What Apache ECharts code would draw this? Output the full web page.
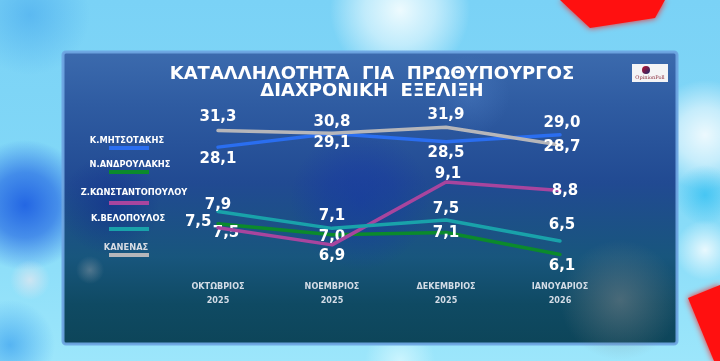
<!DOCTYPE html>
<html>
<head>
<meta charset="utf-8">
<script src="https://cdn.jsdelivr.net/npm/echarts@6/dist/echarts.min.js"></script>
<style>html,body{margin:0;padding:0;background:#8ee0fa;}#c{width:720px;height:361px;}</style>
</head>
<body>
<div id="c"></div>
<script>
// ---- data ----
const categories = ['ΟΚΤΩΒΡΙΟΣ\n2025', 'ΝΟΕΜΒΡΙΟΣ\n2025', 'ΔΕΚΕΜΒΡΙΟΣ\n2025', 'ΙΑΝΟΥΑΡΙΟΣ\n2026'];
const seriesNames = ['Κ.ΜΗΤΣΟΤΑΚΗΣ', 'Ν.ΑΝΔΡΟΥΛΑΚΗΣ', 'Ζ.ΚΩΝΣΤΑΝΤΟΠΟΥΛΟΥ', 'Κ.ΒΕΛΟΠΟΥΛΟΣ', 'ΚΑΝΕΝΑΣ'];
const mitsotakis = [28.1, 29.1, 28.5, 29.0];
const androulakis = [7.5, 7.0, 7.1, 6.1];
const konstantopoulou = [7.5, 6.9, 9.1, 8.8];
const velopoulos = [7.9, 7.1, 7.5, 6.5];
const kanenas = [31.3, 30.8, 31.9, 28.7];
const titleLines = ['ΚΑΤΑΛΛΗΛΟΤΗΤΑ  ΓΙΑ  ΠΡΩΘΥΠΟΥΡΓΟΣ', 'ΔΙΑΧΡΟΝΙΚΗ  ΕΞΕΛΙΞΗ'];

// ---- styles ----
const values = [mitsotakis, androulakis, konstantopoulou, velopoulos, kanenas];
const colors = ['#2a6ef0', '#0b8a2c', '#a8459e', '#19a2aa', '#b6b6ba'];
// per-series hidden scale ranges (the TV graphic uses its own scale for each line)
const ranges = [[18.4, 31.54], [4.93, 13.16], [5.67, 11.97], [4.65, 13.19], [4.42, 36.79]];
// label placement per point: [position, distance, dx, dy]
const labelPos = [
  [['bottom', 4, 0, 0], ['bottom', 2, 0, 0], ['bottom', 3.5, 0, 0], ['top', 3.5, 2, 0]],
  [['bottom', 1.5, 8, 0], ['inside', 0, 0, 2], ['inside', 0, 0, 1], ['bottom', 3.5, 2, 0]],
  [['left', 8, 2, -6], ['bottom', 3.5, 0, 0], ['top', 0, 2, 0], ['inside', 0, 5, 1]],
  [['top', 0, 0, 2], ['top', 4.5, 0, 0], ['top', 2.5, 0, 0], ['top', 7.5, 2, 0]],
  [['top', 5.5, 0, 0], ['top', 3.5, 0, 0], ['top', 4.5, 0, 0], ['inside', 0, 2, 2]]
];
const legendTextX = [127, 130, 134, 128, 126];
const legendTextY = [141, 165, 193, 219, 248];
const legendBarY = [148, 172, 203, 229, 255];

const fmt = v => v.toFixed(1).replace('.', ',');

const yAxes = ranges.map(r => ({
  type: 'value', min: r[0], max: r[1], show: false, splitLine: {show: false}
}));

const series = values.map((vals, i) => ({
  name: seriesNames[i],
  type: 'line',
  yAxisIndex: i,
  z: 5 + i,
  symbol: 'circle',
  symbolSize: 1,
  itemStyle: {color: colors[i]},
  lineStyle: {color: colors[i], width: 3.5, cap: 'round', join: 'round'},
  label: {show: true, color: '#ffffff', fontFamily: 'DejaVu Sans', fontWeight: 'bold', fontSize: 15,
    formatter: p => fmt(p.value)},
  labelLayout: p => {
    const lp = labelPos[i][p.dataIndex];
    return {dx: lp[2], dy: lp[3]};
  },
  data: vals.map((v, j) => ({
    value: v,
    label: {position: labelPos[i][j][0], distance: labelPos[i][j][1]}
  }))
}));

const W = 720, H = 361;
const RG = (c0, c1, mid) => new echarts.graphic.RadialGradient(0.5, 0.5, 0.5,
  mid ? [{offset: 0, color: c0}, {offset: 0.5, color: mid}, {offset: 1, color: c1}] : [{offset: 0, color: c0}, {offset: 1, color: c1}]);
const bg = [
  {type: 'rect', shape: {x: 0, y: 0, width: W, height: H}, z: -30,
   style: {fill: new echarts.graphic.LinearGradient(0, 0, 0, 1, [
     {offset: 0, color: '#7ad2f6'}, {offset: 0.5, color: '#82d8f7'}, {offset: 1, color: '#9ce6fb'}])}},
  {type: 'ellipse', shape: {cx: 400, cy: 10, rx: 300, ry: 70}, z: -29,
   style: {fill: RG('rgba(250,255,255,0.9)', 'rgba(250,255,255,0)', 'rgba(240,252,255,0.6)')}},
  {type: 'ellipse', shape: {cx: 30, cy: 15, rx: 110, ry: 60}, z: -29,
   style: {fill: RG('rgba(60,160,235,0.5)', 'rgba(60,160,235,0)')}},
  {type: 'ellipse', shape: {cx: 25, cy: 205, rx: 80, ry: 65}, z: -29,
   style: {fill: RG('rgba(25,90,225,0.9)', 'rgba(25,90,225,0)', 'rgba(25,90,225,0.6)')}},
  {type: 'ellipse', shape: {cx: 30, cy: 280, rx: 60, ry: 20}, z: -28,
   style: {fill: RG('rgba(220,230,240,0.8)', 'rgba(220,230,240,0)')}},
  {type: 'ellipse', shape: {cx: 10, cy: 345, rx: 80, ry: 45}, z: -29,
   style: {fill: RG('rgba(30,140,235,0.55)', 'rgba(30,140,235,0)')}},
  {type: 'ellipse', shape: {cx: 705, cy: 135, rx: 60, ry: 55}, z: -29,
   style: {fill: RG('rgba(255,255,255,0.85)', 'rgba(255,255,255,0)', 'rgba(255,255,255,0.55)')}},
  {type: 'ellipse', shape: {cx: 705, cy: 250, rx: 55, ry: 30}, z: -29,
   style: {fill: RG('rgba(255,255,255,0.8)', 'rgba(255,255,255,0)')}},
  {type: 'ellipse', shape: {cx: 705, cy: 195, rx: 55, ry: 30}, z: -29,
   style: {fill: RG('rgba(30,185,240,0.6)', 'rgba(30,185,240,0)')}},
  {type: 'ellipse', shape: {cx: 400, cy: 361, rx: 320, ry: 35}, z: -29,
   style: {fill: RG('rgba(215,248,255,0.8)', 'rgba(215,248,255,0)')}},
  {type: 'polygon', shape: {points: [[560, 0], [665, 0], [655, 18], [590, 28]]}, z: -28,
   style: {fill: '#ff1010', shadowBlur: 6, shadowColor: '#ff2020'}},
  {type: 'polygon', shape: {points: [[688, 298], [720, 285], [720, 361], [714, 361]]}, z: -28,
   style: {fill: '#ff1010', shadowBlur: 6, shadowColor: '#ff2020'}},
  // panel
  {type: 'rect', shape: {x: 63, y: 52, width: 614, height: 292, r: 3}, z: -20,
   style: {fill: new echarts.graphic.LinearGradient(0, 0, 0, 1, [
     {offset: 0, color: '#3c6bae'}, {offset: 0.18, color: '#2f5ca2'}, {offset: 0.45, color: '#214a92'},
     {offset: 0.7, color: '#18567d'}, {offset: 0.86, color: '#0f4a63'}, {offset: 1, color: '#0d4559'}]),
     stroke: 'rgba(110,165,225,0.95)', lineWidth: 3}},
  {type: 'ellipse', shape: {cx: 360, cy: 200, rx: 310, ry: 70}, z: -19,
   style: {fill: RG('rgba(20,50,170,0.45)', 'rgba(20,50,170,0)', 'rgba(20,50,170,0.3)')}},
  {type: 'ellipse', shape: {cx: 110, cy: 205, rx: 60, ry: 50}, z: -19,
   style: {fill: RG('rgba(15,40,140,0.5)', 'rgba(15,40,140,0)')}},
  {type: 'ellipse', shape: {cx: 90, cy: 270, rx: 45, ry: 14}, z: -19,
   style: {fill: RG('rgba(150,160,170,0.45)', 'rgba(150,160,170,0)')}},
  {type: 'ellipse', shape: {cx: 620, cy: 300, rx: 120, ry: 60}, z: -19,
   style: {fill: RG('rgba(120,130,135,0.55)', 'rgba(120,130,135,0)')}},
  {type: 'ellipse', shape: {cx: 470, cy: 95, rx: 200, ry: 40}, z: -19,
   style: {fill: RG('rgba(90,140,210,0.3)', 'rgba(90,140,210,0)')}},
  // logo
  {type: 'rect', shape: {x: 632, y: 64, width: 36, height: 18}, z: -10, style: {fill: '#f4f4f6'}},
  {type: 'circle', shape: {cx: 646, cy: 70, r: 4}, z: -9,
   style: {fill: new echarts.graphic.LinearGradient(0, 0, 1, 1, [
     {offset: 0, color: '#c0102a'}, {offset: 1, color: '#1a2a70'}])}},
  {type: 'text', x: 650, y: 78, z: -9,
   style: {text: 'OpinionPoll', fill: '#8a2a3a', font: '5px "DejaVu Serif"', align: 'center', verticalAlign: 'middle'}},
  // title
  {type: 'text', x: 372, y: 74, z: 20,
   style: {text: titleLines[0], fill: '#ffffff', font: 'bold 18px "DejaVu Sans"', align: 'center', verticalAlign: 'middle'}},
  {type: 'text', x: 372, y: 91, z: 20,
   style: {text: titleLines[1], fill: '#ffffff', font: 'bold 18px "DejaVu Sans"', align: 'center', verticalAlign: 'middle'}}
];
const legendG = [];
seriesNames.forEach((n, i) => {
  legendG.push({type: 'text', x: legendTextX[i], y: legendTextY[i], z: 20,
    style: {text: n, fill: i === 4 ? '#d8dce4' : '#ffffff', font: 'bold 8.3px "DejaVu Sans"', align: 'center', verticalAlign: 'middle'}});
  legendG.push({type: 'rect', shape: {x: 109, y: legendBarY[i] - 2, width: 40, height: 4}, z: 20,
    style: {fill: colors[i]}});
});

const chart = echarts.init(document.getElementById('c'), null, {renderer: 'canvas'});
chart.setOption({
  animation: false,
  backgroundColor: 'transparent',
  graphic: bg.concat(legendG),
  grid: {left: 218, right: 160, top: 100, bottom: 81, containLabel: false},
  xAxis: {
    type: 'category', data: categories, boundaryGap: false,
    axisLine: {show: false}, axisTick: {show: false}, splitLine: {show: false},
    axisLabel: {color: '#d3dce6', fontFamily: '"Liberation Sans Narrow", "DejaVu Sans Condensed", sans-serif',
      fontWeight: 'bold', fontSize: 9, lineHeight: 14, margin: 0}
  },
  yAxis: yAxes,
  series: series
});
</script>
</body>
</html>
